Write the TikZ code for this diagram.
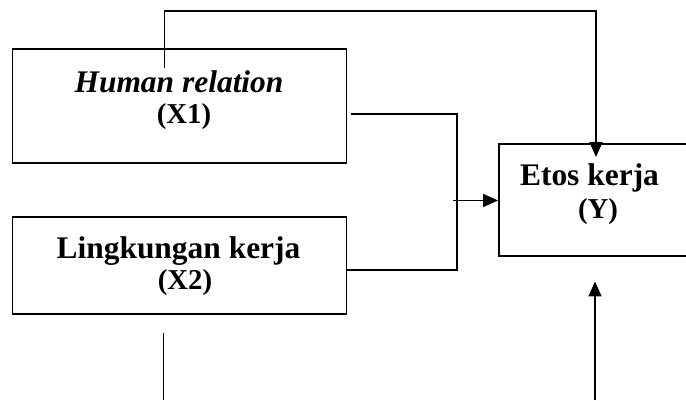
\documentclass[tikz,border=0pt]{standalone}
\usepackage{fontspec}
\setmainfont{Liberation Serif}
\usetikzlibrary{arrows.meta}

\newcommand{\bigsz}{\fontsize{17.9}{20}\selectfont}
\newcommand{\smallsz}{\fontsize{16.4}{18}\selectfont}

\begin{document}
\begin{tikzpicture}[
        varbox/.style={draw, line width=1.1pt, inner sep=0pt},
        varlabel/.style={align=center, font=\bfseries\smallsz, inner sep=0pt},
        conn/.style={line width=0.95pt},
        arr/.style={conn, -{Triangle[length=3mm,width=2.6mm]}}
    ]
        \useasboundingbox (0,0) rectangle (13.72,8);

        % Variable boxes
        \node[varbox, minimum width=6.68cm, minimum height=2.27cm] (x1) at (3.59,5.88) {};
        \node[varbox, minimum width=6.68cm, minimum height=1.93cm] (x2) at (3.59,2.69) {};
        \node[varbox, minimum width=3.84cm, minimum height=2.23cm] (y) at (11.9,4.0) {};

        % Labels
        \node[varlabel] (x1lbl) at (3.58,6.0) {{\bigsz\textit{Human relation}}\\[-0.2pt]\hspace*{0.2cm}(X1)};
        \node[varlabel] (x2lbl) at (3.57,2.68) {{\bigsz Lingkungan kerja}\\[-0.4pt]\hspace*{0.26cm}(X2)};
        \node[varlabel] (ylbl) at (11.79,4.12) {{\bigsz Etos kerja}\\[0.7pt]\hspace*{0.34cm}(Y)};

        % Line over the top into Y
        \coordinate (hrtop) at (3.29,6.64);
        \coordinate (ytop) at (11.92,4.86);
        \draw[arr] (hrtop) -- ++(0,1.14) -| (ytop);

        % X1 and X2 joined, then into Y
        \coordinate (join) at (9.14,2.6);
        \draw[conn] ([xshift=0.07cm,yshift=-0.16cm]x1.east) -| (join) -- (join -| x2.east);
        \coordinate (mid) at (9.06,3.99);
        \draw[arr] (mid) -- (mid -| y.west);

        % Lines from below
        \coordinate (ybot) at (11.9,0);
        \draw[arr] (ybot) -- ++(0,2.37);
        \coordinate (x2bot) at (3.27,1.34);
        \draw[conn] (x2bot) -- ++(0,-1.34);

    \end{tikzpicture}
\end{document}
